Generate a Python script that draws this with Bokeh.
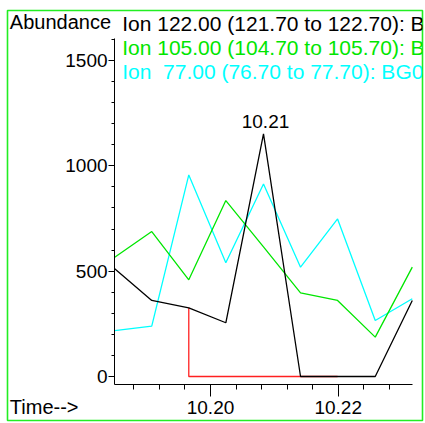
from bokeh.plotting import figure
from bokeh.models import Label, SingleIntervalTicker, NumeralTickFormatter, Range1d, LinearAxis
from bokeh.embed import file_html
from bokeh.resources import INLINE

# ---- data ----
times = [10.1850, 10.1908, 10.1966, 10.2024, 10.2083, 10.2141, 10.2199, 10.2258, 10.2316]
ion122 = [511, 361, 326, 255, 1152, 0, 0, 0, 361]
ion105 = [566, 688, 459, 835, 615, 397, 361, 187, 519]
ion77 = [218, 239, 957, 540, 914, 519, 748, 266, 369]
base_t = [10.1966, 10.1966, 10.2199]
base_v = [326, 0, 0]
titles = [
    "Ion 122.00 (121.70 to 122.70): B",
    "Ion 105.00 (104.70 to 105.70): B",
    "Ion \u00a077.00 (76.70 to 77.70): BG0",
]
colors = ["#000000", "#00e600", "#00ffff"]
y_axis_bounds = (-38, 1604)
x_axis_bounds = (10.18497, 10.23164)
y_tick_interval = 500
x_tick_interval = 0.02

FONT = "Liberation Sans"

p = figure(width=425, height=423, output_backend="svg", toolbar_location=None,
           x_range=Range1d(10.16821, 10.23320), y_range=Range1d(-208.9, 1737.3),
           x_axis_location=None, y_axis_location=None)
p.min_border_left = 7
p.min_border_top = 10
p.min_border_right = 3
p.min_border_bottom = 3
p.outline_line_color = "#22ee22"
p.outline_line_width = 1.6
p.grid.visible = False
p.background_fill_color = "white"
p.border_fill_color = "white"

# axes (placed at fixed data locations, limited to the plotting area)
xa = LinearAxis(fixed_location=y_axis_bounds[0], bounds=x_axis_bounds)
xa.ticker = SingleIntervalTicker(interval=x_tick_interval, num_minor_ticks=5)
xa.formatter = NumeralTickFormatter(format="0.00")
xa.major_tick_in = 0
xa.major_tick_out = 12
xa.minor_tick_in = 0
xa.minor_tick_out = 5
xa.major_label_standoff = 5
xa.major_label_text_font = FONT
xa.major_label_text_font_size = "19px"
xa.major_label_text_color = "black"
xa.axis_line_color = "black"
xa.major_tick_line_color = "black"
xa.minor_tick_line_color = "black"
p.add_layout(xa, "below")

ya = LinearAxis(fixed_location=x_axis_bounds[0], bounds=y_axis_bounds)
ya.ticker = SingleIntervalTicker(interval=y_tick_interval, num_minor_ticks=5)
ya.major_tick_in = 0
ya.major_tick_out = 6
ya.minor_tick_in = 0
ya.minor_tick_out = 3
ya.major_label_standoff = 1
ya.major_label_text_font = FONT
ya.major_label_text_font_size = "19px"
ya.major_label_text_color = "black"
ya.axis_line_color = "black"
ya.major_tick_line_color = "black"
ya.minor_tick_line_color = "black"
p.add_layout(ya, "left")

# integration baseline (red)
p.line(base_t, base_v, line_color="#ff2020", line_width=1.3)
# traces
p.line(times, ion77, line_color=colors[2], line_width=1.3)
p.line(times, ion105, line_color=colors[1], line_width=1.3)
p.line(times, ion122, line_color=colors[0], line_width=1.3)

# peak label
ipk = ion122.index(max(ion122))
p.add_layout(Label(x=times[ipk], y=ion122[ipk] + 57, x_offset=2, text=f"{times[ipk]:.2f}",
                   text_align="center", text_baseline="alphabetic",
                   text_font=FONT, text_font_size="19px", text_color="black"))

# titles / labels
title_x = 10.18617
title_y = [1677, 1562, 1446]
for t, c, yy in zip(titles, colors, title_y):
    p.add_layout(Label(x=title_x, y=yy, text=t, text_align="left", text_baseline="alphabetic",
                       text_font=FONT, text_font_size="21px", text_color=c))

p.add_layout(Label(x=10.16857, y=1685, text="Abundance", text_align="left",
                   text_baseline="alphabetic", text_font=FONT, text_font_size="20px",
                   text_color="black"))
p.add_layout(Label(x=10.16857, y=-144, text="Time-->", text_align="left",
                   text_baseline="alphabetic", text_font=FONT, text_font_size="20px",
                   text_color="black"))

open("out.html", "w").write(file_html(p, INLINE))
